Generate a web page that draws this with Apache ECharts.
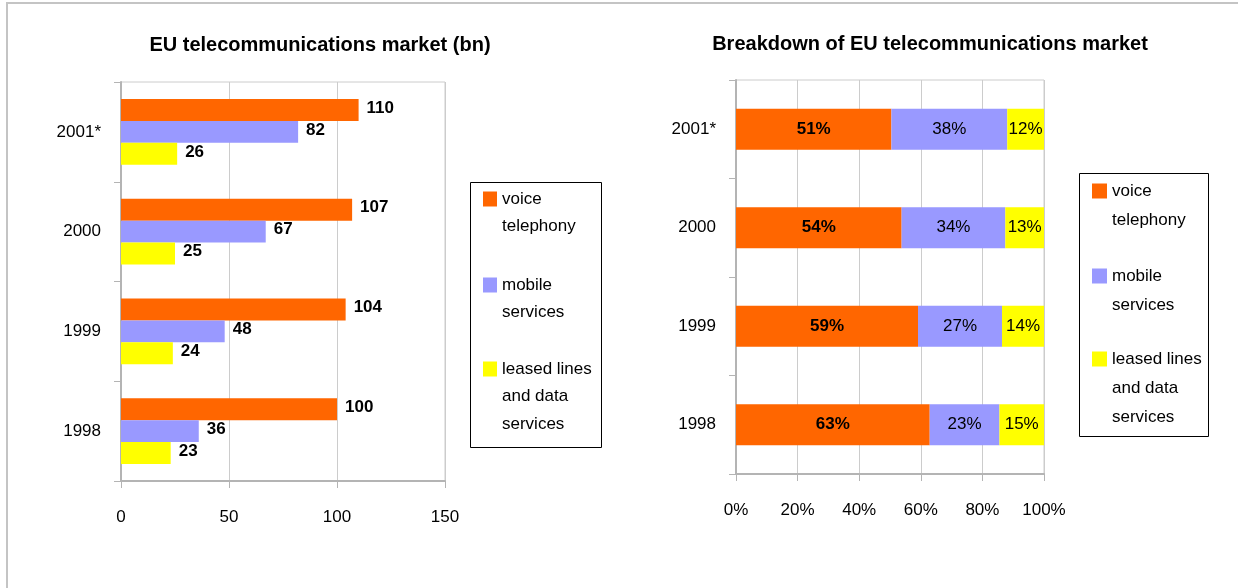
<!DOCTYPE html>
<html lang="en">
<head>
    <meta charset="UTF-8">
    <title>EU telecommunications market</title>
    <script src="https://cdn.jsdelivr.net/npm/echarts@6/dist/echarts.min.js"></script>
    <style>
        * { margin: 0; padding: 0; box-sizing: border-box; }
        body { background: #fff; }
        #chart { width: 1238px; height: 588px; }
    </style>
</head>
<body>
    <div id="chart"></div>

    <script>
        const years = ['1998', '1999', '2000', '2001*'];
        const voice = [100, 104, 107, 110];
        const mobile = [36, 48, 67, 82];
        const leased = [23, 24, 25, 26];
        // printed shares on the right-hand chart
        const voicePct = [63, 59, 54, 51];
        const mobilePct = [23, 27, 34, 38];
        const leasedPct = [15, 14, 13, 12];
        const seriesNames = ['voice telephony', 'mobile services', 'leased lines and data services'];
        const legendLines = [['voice', 'telephony'], ['mobile', 'services'], ['leased lines', 'and data', 'services']];
        const colors = ['#ff6600', '#9999ff', '#ffff00'];

        const font = '"Liberation Sans", Arial, sans-serif';
        const axisGray = '#b4b4b4';
        const gridGray = '#cccccc';

        const values = [voice, mobile, leased];
        const pcts = [voicePct, mobilePct, leasedPct];
        const totals = years.map((y, i) => voice[i] + mobile[i] + leased[i]);

        // legend text is centred on its icon, so blank lines are put on top
        // to bring the first line level with the icon
        function makeLegend(i, x, iconY, lh, iw, ih) {
            const lines = legendLines[i];
            const pad = new Array(lines.length - 1).fill('');
            const total = lines.length * 2 - 1;
            return {
                data: [seriesNames[i]],
                left: x,
                top: iconY - total * lh / 2,
                padding: 0,
                itemWidth: iw,
                itemHeight: ih,
                icon: 'rect',
                selectedMode: false,
                formatter: () => pad.concat(lines).join('\n'),
                textStyle: {
                    fontFamily: font,
                    fontSize: 17,
                    lineHeight: lh,
                    color: '#000'
                }
            };
        }

        function valueAxis(gi, max, interval, fmt) {
            return {
                type: 'value',
                gridIndex: gi,
                min: 0,
                max: max,
                interval: interval,
                axisLine: { show: true, lineStyle: { color: axisGray, width: 2 } },
                axisTick: { show: true, length: 7, lineStyle: { color: axisGray } },
                splitLine: { lineStyle: { color: gridGray } },
                axisLabel: { color: '#000', fontFamily: font, fontSize: 17, margin: 28, formatter: fmt }
            };
        }

        function catAxis(gi) {
            return {
                type: 'category',
                gridIndex: gi,
                data: years,
                axisLine: { show: true, lineStyle: { color: axisGray, width: 2 } },
                axisTick: { show: true, length: 7, lineStyle: { color: axisGray } },
                axisLabel: { color: '#000', fontFamily: font, fontSize: 17, margin: 20 }
            };
        }

        const chart = echarts.init(document.getElementById('chart'));

        const leftSeries = seriesNames.map((name, s) => ({
            name: name,
            type: 'bar',
            xAxisIndex: 0,
            yAxisIndex: 0,
            data: values[s],
            itemStyle: { color: colors[s] },
            barGap: '0%',
            barCategoryGap: '34%',
            label: {
                show: true,
                position: 'right',
                distance: 8,
                offset: [0, -2],
                color: '#000',
                fontFamily: font,
                fontSize: 17,
                fontWeight: 'bold'
            }
        }));

        const rightSeries = seriesNames.map((name, s) => ({
            name: name,
            type: 'bar',
            stack: 'share',
            xAxisIndex: 1,
            yAxisIndex: 1,
            barWidth: 41,
            data: values[s].map((v, i) => v / totals[i] * 100),
            itemStyle: { color: colors[s] },
            label: {
                show: true,
                position: 'inside',
                color: '#000',
                fontFamily: font,
                fontSize: 17,
                fontWeight: s === 0 ? 'bold' : 'normal',
                formatter: p => pcts[s][p.dataIndex] + '%'
            }
        }));

        chart.setOption({
            animation: false,
            textStyle: { fontFamily: font },
            grid: [
                { left: 121, right: 793, top: 82, bottom: 107, show: true, borderColor: gridGray, borderWidth: 1 },
                { left: 736, right: 194, top: 80, bottom: 114, show: true, borderColor: gridGray, borderWidth: 1 }
            ],
            xAxis: [
                valueAxis(0, 150, 50),
                valueAxis(1, 100, 20, '{value}%')
            ],
            yAxis: [catAxis(0), catAxis(1)],
            legend: [
                makeLegend(0, 483, 199, 27.5, 14, 15),
                makeLegend(1, 483, 285, 27.5, 14, 15),
                makeLegend(2, 483, 369, 27.5, 14, 15),
                makeLegend(0, 1092, 191, 29, 15, 15),
                makeLegend(1, 1092, 276, 29, 15, 15),
                makeLegend(2, 1092, 359, 29, 15, 15)
            ],
            graphic: [
                { type: 'line', shape: { x1: 6, y1: 3, x2: 1238, y2: 3 }, style: { stroke: '#c4c4c4', lineWidth: 2 } },
                { type: 'line', shape: { x1: 7, y1: 3, x2: 7, y2: 588 }, style: { stroke: '#c4c4c4', lineWidth: 2 } },
                { type: 'rect', shape: { x: 470.5, y: 182.5, width: 131, height: 265 }, style: { fill: 'none', stroke: '#000', lineWidth: 1 } },
                { type: 'rect', shape: { x: 1079.5, y: 173.5, width: 129, height: 263 }, style: { fill: 'none', stroke: '#000', lineWidth: 1 } },
                { type: 'text', x: 320, y: 45, style: { text: 'EU telecommunications market (bn)', align: 'center', verticalAlign: 'middle', fontFamily: font, fontSize: 20, fontWeight: 'bold', fill: '#000' } },
                { type: 'text', x: 930, y: 44, style: { text: 'Breakdown of EU telecommunications market', align: 'center', verticalAlign: 'middle', fontFamily: font, fontSize: 20, fontWeight: 'bold', fill: '#000' } }
            ],
            series: leftSeries.concat(rightSeries)
        });
    </script>
</body>
</html>
